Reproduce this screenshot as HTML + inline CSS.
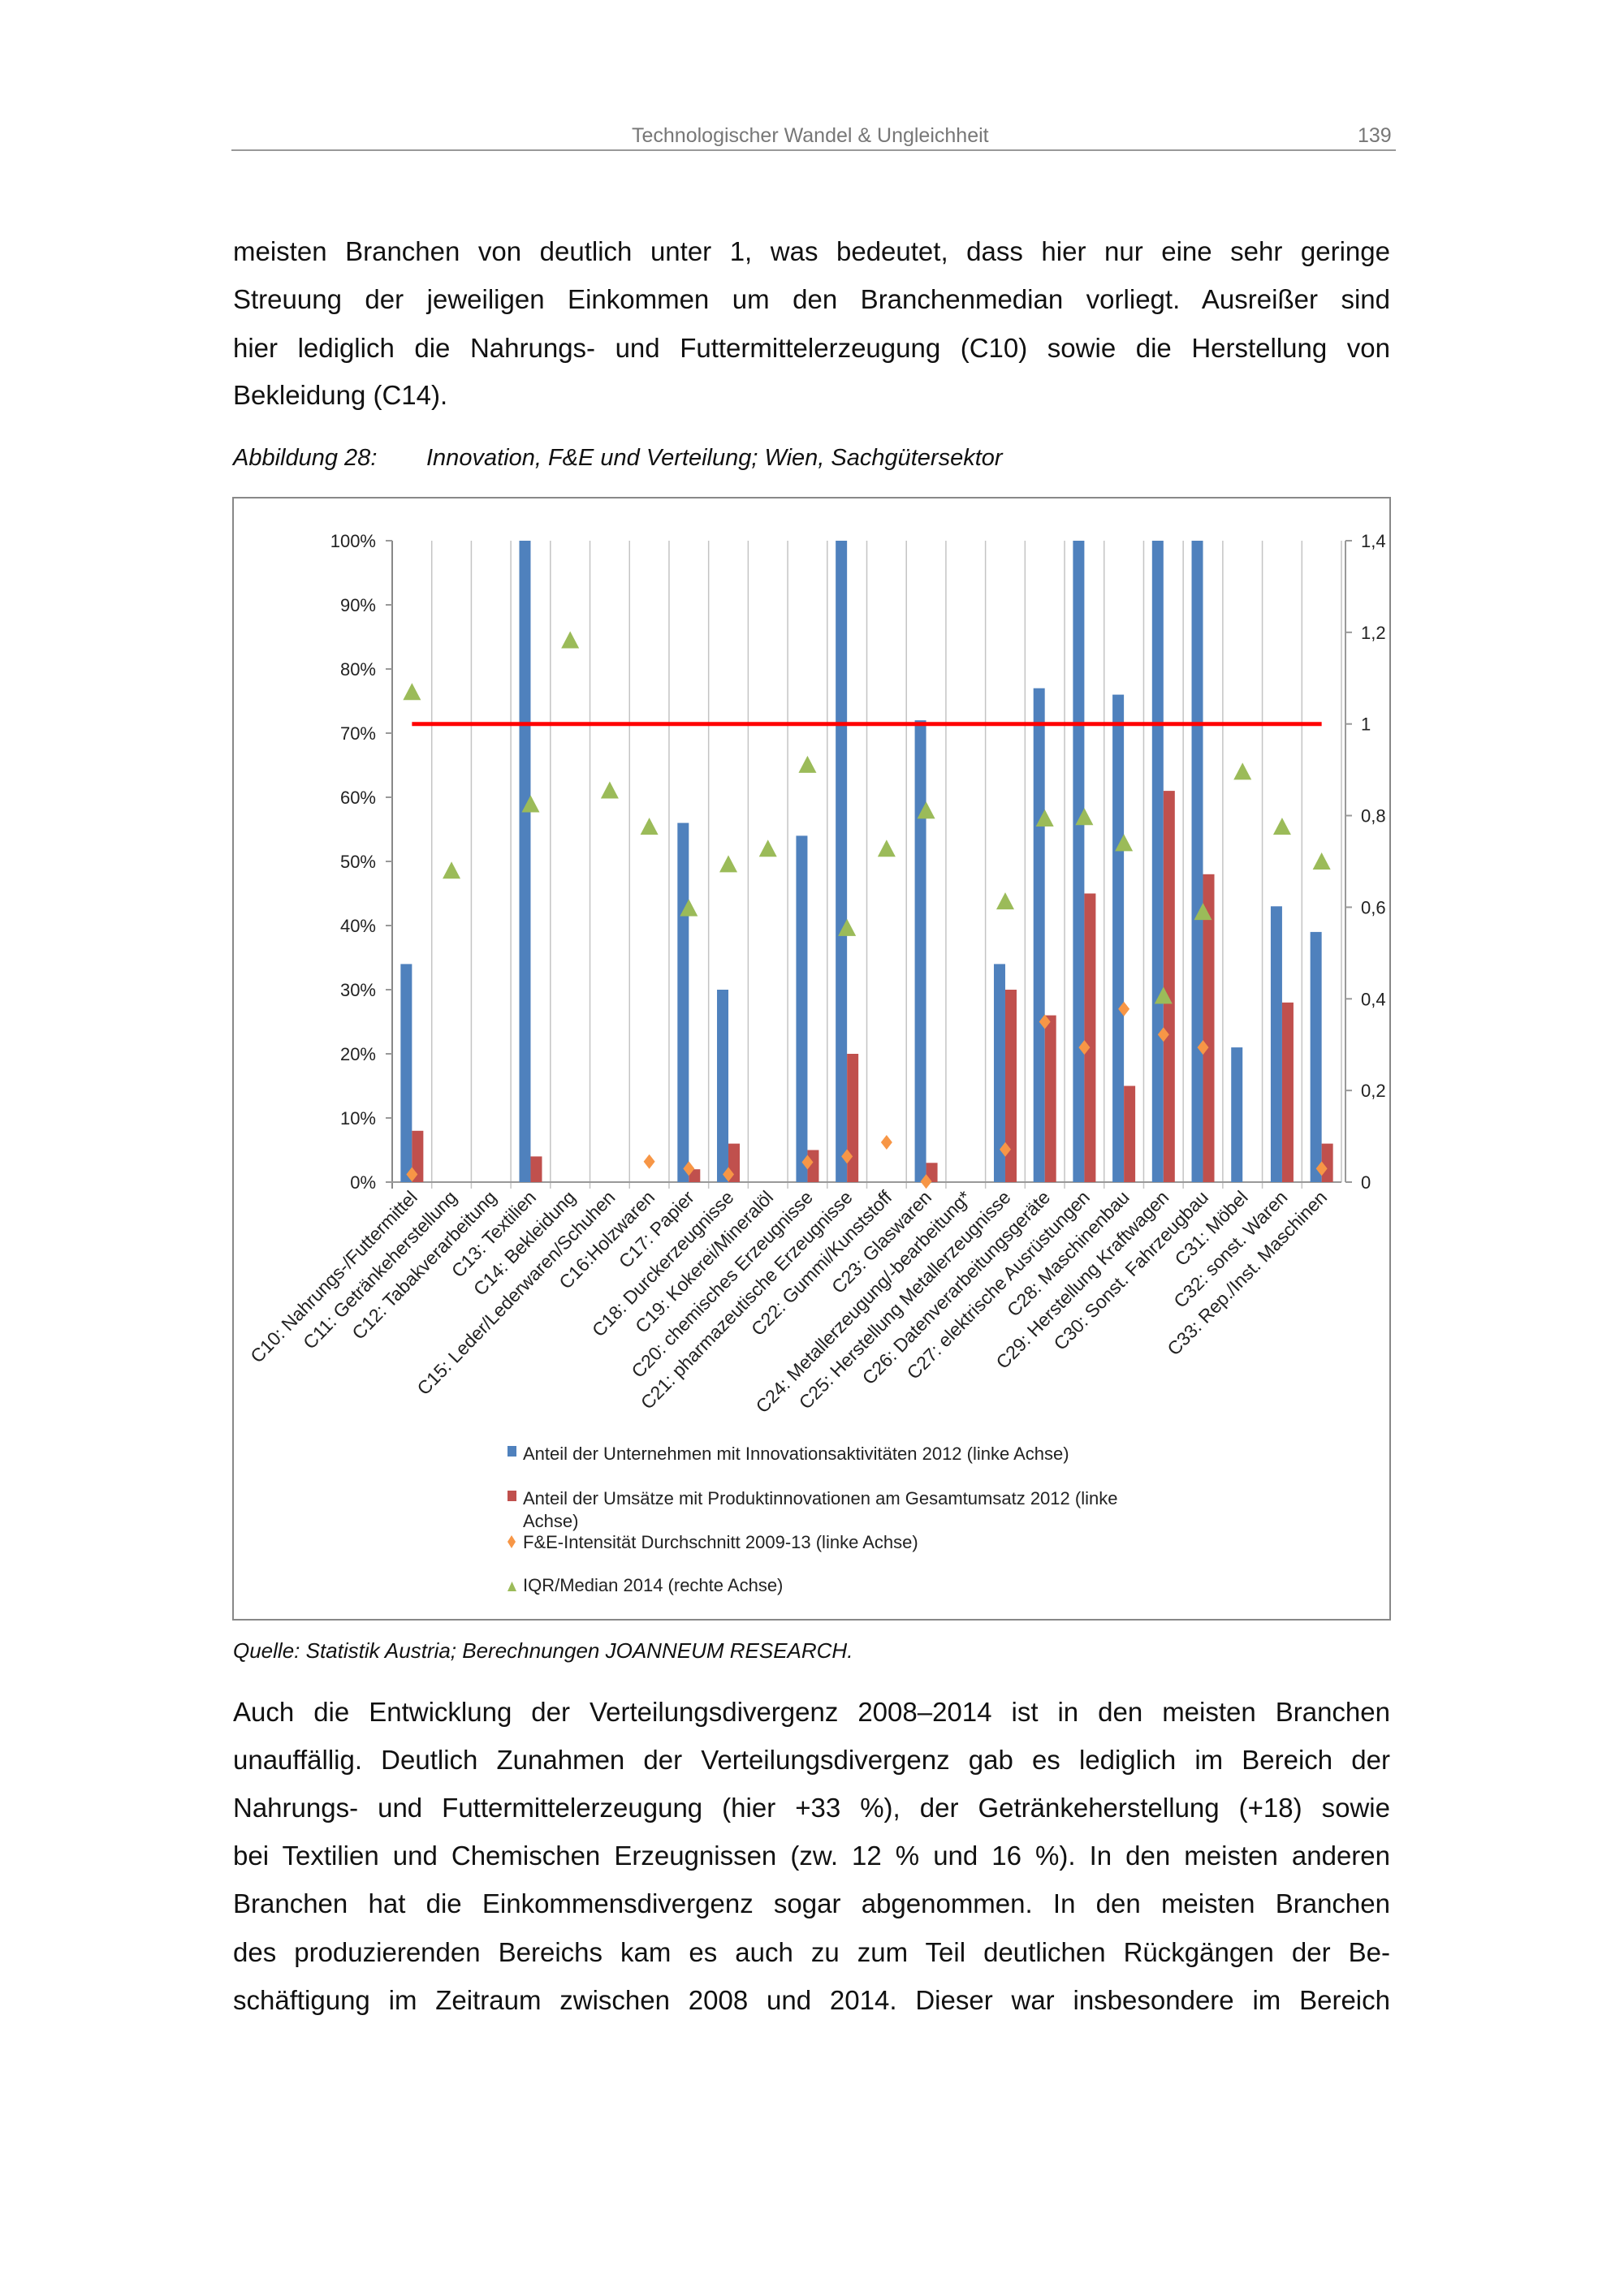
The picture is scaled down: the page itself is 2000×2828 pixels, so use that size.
<!DOCTYPE html>
<html><head><meta charset="utf-8">
<style>
html,body{margin:0;padding:0;background:#fff;}
body{width:2000px;height:2828px;position:relative;overflow:hidden;font-family:"Liberation Sans",sans-serif;color:#111;}
.ln{position:absolute;left:287px;width:1425px;font-size:33px;white-space:nowrap;text-align:justify;text-align-last:justify;line-height:40px;}
.hdr{position:absolute;top:153px;font-size:25px;color:#777;}
</style></head><body>
<div class="hdr" style="left:778px;">Technologischer Wandel &amp; Ungleichheit</div>
<div class="hdr" style="left:1672px;">139</div>
<div style="position:absolute;left:285px;top:184px;width:1434px;height:2px;background:#999;"></div>

<div>
<div class="ln" style="top:290px;">meisten Branchen von deutlich unter 1, was bedeutet, dass hier nur eine sehr geringe</div>
<div class="ln" style="top:349px;">Streuung der jeweiligen Einkommen um den Branchenmedian vorliegt. Ausreißer sind</div>
<div class="ln" style="top:409px;">hier lediglich die Nahrungs- und Futtermittelerzeugung (C10) sowie die Herstellung von</div>
<div class="ln" style="top:467px;text-align-last:left;">Bekleidung (C14).</div>
</div>
<div style="position:absolute;top:548px;left:287px;font-size:29px;font-style:italic;white-space:nowrap;">Abbildung 28:<span style="position:absolute;left:238px;">Innovation, F&amp;E und Verteilung; Wien, Sachgütersektor</span></div>

<svg id="chart" width="2000" height="2828" style="position:absolute;left:0;top:0;" font-family="Liberation Sans, sans-serif">
<rect x="287" y="613" width="1425" height="1382" fill="none" stroke="#888" stroke-width="2"/>
<g id="grid"></g><g id="marks"></g><g id="labels"></g>
<g font-size="22" fill="#222">
<rect x="625" y="1781" width="11" height="13" fill="#4f81bd"/>
<text x="644" y="1798">Anteil der Unternehmen mit Innovationsaktivitäten 2012 (linke Achse)</text>
<rect x="625" y="1836" width="11" height="13" fill="#c0504d"/>
<text x="644" y="1853">Anteil der Umsätze mit Produktinnovationen am Gesamtumsatz 2012 (linke</text>
<text x="644" y="1881">Achse)</text>
<path d="M630 1891 L635 1899 L630 1907 L625 1899 Z" fill="#f79646"/>
<text x="644" y="1907">F&amp;E-Intensität Durchschnitt 2009-13 (linke Achse)</text>
<path d="M625 1960 L636 1960 L630.5 1948 Z" fill="#9bbb59"/>
<text x="644" y="1960">IQR/Median 2014 (rechte Achse)</text>
</g>
</svg>

<div style="position:absolute;top:2018px;left:287px;font-size:26px;font-style:italic;white-space:nowrap;">Quelle: Statistik Austria; Berechnungen JOANNEUM RESEARCH.</div>

<div>
<div class="ln" style="top:2089px;">Auch die Entwicklung der Verteilungsdivergenz 2008–2014 ist in den meisten Branchen</div>
<div class="ln" style="top:2148px;">unauffällig. Deutlich Zunahmen der Verteilungsdivergenz gab es lediglich im Bereich der</div>
<div class="ln" style="top:2207px;">Nahrungs- und Futtermittelerzeugung (hier +33 %), der Getränkeherstellung (+18) sowie</div>
<div class="ln" style="top:2266px;">bei Textilien und Chemischen Erzeugnissen (zw. 12 % und 16 %). In den meisten anderen</div>
<div class="ln" style="top:2325px;">Branchen hat die Einkommensdivergenz sogar abgenommen. In den meisten Branchen</div>
<div class="ln" style="top:2385px;">des produzierenden Bereichs kam es auch zu zum Teil deutlichen Rückgängen der Be-</div>
<div class="ln" style="top:2444px;">schäftigung im Zeitraum zwischen 2008 und 2014. Dieser war insbesondere im Bereich</div>
</div>

<script>
const categories = ["C10: Nahrungs-/Futtermittel","C11: Getränkeherstellung","C12: Tabakverarbeitung","C13: Textilien","C14: Bekleidung","C15: Leder/Lederwaren/Schuhen","C16:Holzwaren","C17: Papier","C18: Durckerzeugnisse","C19: Kokerei/Mineralöl","C20: chemisches Erzeugnisse","C21: pharmazeutische Erzeugnisse","C22: Gummi/Kunststoff","C23: Glaswaren","C24: Metallerzeugung/-bearbeitung*","C25: Herstellung Metallerzeugnisse","C26: Datenverarbeitungsgeräte","C27: elektrische Ausrüstungen","C28: Maschinenbau","C29: Herstellung Kraftwagen","C30: Sonst. Fahrzeugbau","C31: Möbel","C32: sonst. Waren","C33: Rep./Inst. Maschinen"];
const innovationShare = [34,null,null,100,null,null,null,56,30,null,54,100,null,72,null,34,77,100,76,100,100,21,43,39];
const revenueShare = [8,null,null,4,null,null,null,2,6,null,5,20,null,3,null,30,26,45,15,61,48,null,28,6];
const rdIntensity = [1.2,null,null,null,null,null,3.2,2.1,1.2,null,3.1,4,6.2,0.1,null,5.1,25,21,27,23,21,null,null,2.1];
const iqrMedian = [1.07,0.68,null,0.825,1.183,0.855,0.776,0.598,0.694,0.728,0.911,0.555,0.728,0.811,null,0.613,0.794,0.797,0.740,0.407,0.590,0.896,0.776,0.70];
const leftTicks = [0,10,20,30,40,50,60,70,80,90,100];
const rightTicks = [0,0.2,0.4,0.6,0.8,1,1.2,1.4];
const refValue = 1;

const NS="http://www.w3.org/2000/svg";
const L=483,R=1652,T=666,B=1456;
const bw=(R-L)/categories.length;
const xc=i=>L+(i+0.5)*bw;
const yl=v=>B-(v/100)*(B-T);
const yr=v=>B-(v/1.4)*(B-T);
function mk(tag,attrs,parent){const e=document.createElementNS(NS,tag);for(const k in attrs)e.setAttribute(k,attrs[k]);parent.appendChild(e);return e;}
const grid=document.getElementById('grid'),marks=document.getElementById('marks'),labels=document.getElementById('labels');

for(let i=0;i<=categories.length;i++){
  const x=L+i*bw;
  const g=mk('line',{x1:x,x2:x,y1:T,y2:B+(i<categories.length?8:0),stroke:i==0?'#888':'#c4c4c4','stroke-width':i==0?2:1.5},grid);
  
  
}
const xa=mk('line',{x1:L,x2:R,y1:B,y2:B,stroke:'#999','stroke-width':2},grid);


const ra=mk('line',{x1:R+5,x2:R+5,y1:T,y2:B,stroke:'#999','stroke-width':2},grid);



leftTicks.forEach(v=>{
  const y=yl(v);
  const tk=mk('line',{x1:L-8,x2:L,y1:y,y2:y,stroke:'#999','stroke-width':2},grid);
  
  
  const t=mk('text',{x:L-20,y:y+8,'text-anchor':'end','font-size':22,fill:'#222'},labels);
  t.textContent=v+'%';
  
  
});
rightTicks.forEach(v=>{
  const y=yr(v);
  const tk=mk('line',{x1:R+5,x2:R+13,y1:y,y2:y,stroke:'#999','stroke-width':2},grid);
  
  
  const t=mk('text',{x:R+24,y:y+8,'font-size':22,fill:'#222'},labels);
  t.textContent=String(v).replace('.',',');
  
  
});

const barW=14;
innovationShare.forEach((v,i)=>{
  if(v==null)return;
  const r=mk('rect',{x:xc(i)-barW,y:yl(v),width:barW,height:B-yl(v),fill:'#4f81bd'},marks);
  
  
});
revenueShare.forEach((v,i)=>{
  if(v==null)return;
  const r=mk('rect',{x:xc(i),y:yl(v),width:barW,height:B-yl(v),fill:'#c0504d'},marks);
  
  
});
const rl=mk('line',{x1:xc(0),x2:xc(categories.length-1),y1:yr(refValue),y2:yr(refValue),stroke:'#ff0000','stroke-width':5},marks);


rdIntensity.forEach((v,i)=>{
  if(v==null)return;
  const x=xc(i),y=yl(v);
  const p=mk('path',{d:`M${x} ${y-9} L${x+7} ${y} L${x} ${y+9} L${x-7} ${y} Z`,fill:'#f79646'},marks);
  
  
});
iqrMedian.forEach((v,i)=>{
  if(v==null)return;
  const x=xc(i),y=yr(v);
  const p=mk('path',{d:`M${x-11} ${y+10} L${x+11} ${y+10} L${x} ${y-11} Z`,fill:'#9bbb59'},marks);
  
  
});
categories.forEach((c,i)=>{
  const x=xc(i)+8,y=B+20;
  const t=mk('text',{x:x,y:y,'text-anchor':'end','font-size':23,fill:'#222',transform:`rotate(-46 ${x} ${y})`},labels);
  t.textContent=c;
  
  
});
</script>
</body></html>
